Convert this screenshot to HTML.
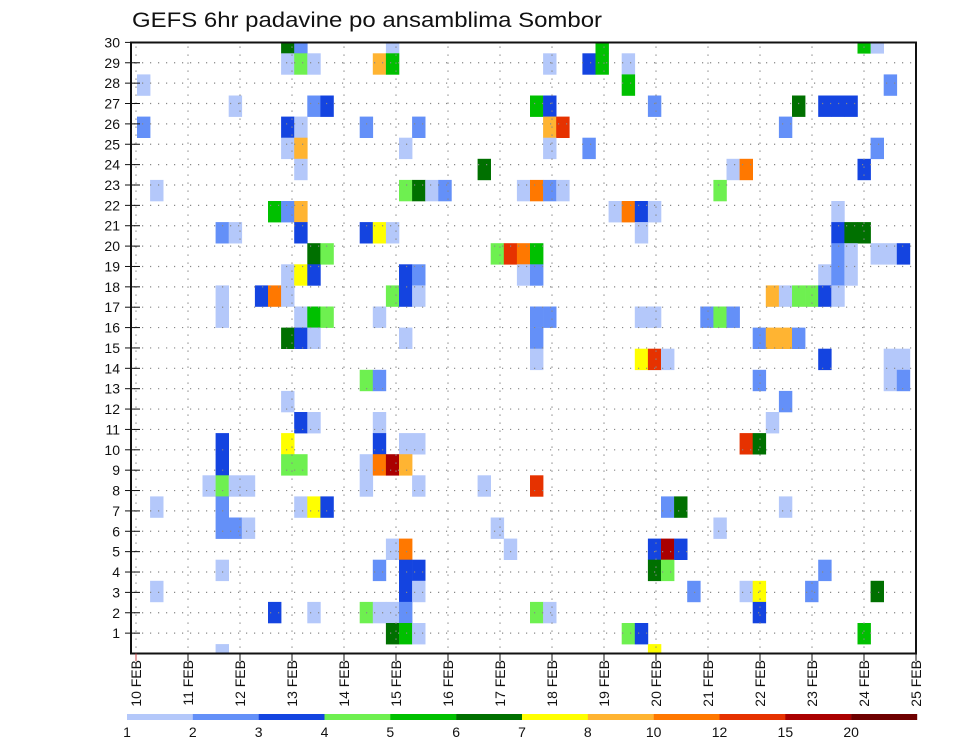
<!DOCTYPE html>
<html><head><meta charset="utf-8"><title>GEFS 6hr padavine po ansamblima Sombor</title>
<style>
html,body{margin:0;padding:0;background:#fff;}
svg{display:block;font-family:"Liberation Sans",sans-serif;}
</style></head>
<body>
<svg id="chart" width="960" height="742" viewBox="0 0 960 742" xmlns="http://www.w3.org/2000/svg">
<text x="132" y="27" font-size="21" fill="#111" textLength="470" lengthAdjust="spacingAndGlyphs">GEFS 6hr padavine po ansamblima Sombor</text>
<defs><clipPath id="plotclip"><rect x="131" y="42.5" width="785" height="611"/></clipPath></defs>
<g id="cells" clip-path="url(#plotclip)"></g>
<g id="grid"></g>
<g id="axes"></g>
<g id="legend"></g>
</svg>
<script>
// Data: each cell = 6-hour step index, ensemble member row, precipitation level
const stepIdx = [
11,12,19,35,55,56,
11,12,13,18,19,31,34,35,37,
0,37,57,
7,13,14,30,31,39,50,52,53,54,
0,11,12,17,21,31,32,49,
11,12,20,31,34,56,
12,26,45,46,55,
1,20,21,22,23,29,30,31,32,44,
10,11,12,36,37,38,39,53,
6,7,12,17,18,19,38,53,54,55,
13,14,27,28,29,30,53,54,56,57,58,
11,12,13,20,21,29,30,52,53,54,
6,9,10,11,19,20,21,48,49,50,51,52,53,
6,12,13,14,18,30,31,38,39,43,44,45,
11,12,13,20,30,47,48,49,50,
30,38,39,40,52,57,58,
17,18,47,57,58,
11,49,
12,13,18,48,
6,11,18,20,21,46,47,
6,11,12,17,18,19,20,
5,6,7,8,17,21,26,30,
1,6,12,13,14,40,41,49,
6,7,8,27,44,
19,20,28,39,40,41,
6,18,20,21,39,40,52,
1,20,21,42,46,47,51,56,
10,13,17,18,19,20,30,31,47,
19,20,21,37,38,55,
6,39];
const memberIdx = [
30,30,30,30,30,30,
29,29,29,29,29,29,29,29,29,
28,28,28,
27,27,27,27,27,27,27,27,27,27,
26,26,26,26,26,26,26,26,
25,25,25,25,25,25,
24,24,24,24,24,
23,23,23,23,23,23,23,23,23,23,
22,22,22,22,22,22,22,22,
21,21,21,21,21,21,21,21,21,21,
20,20,20,20,20,20,20,20,20,20,20,
19,19,19,19,19,19,19,19,19,19,
18,18,18,18,18,18,18,18,18,18,18,18,18,
17,17,17,17,17,17,17,17,17,17,17,17,
16,16,16,16,16,16,16,16,16,
15,15,15,15,15,15,15,
14,14,14,14,14,
13,13,
12,12,12,12,
11,11,11,11,11,11,11,
10,10,10,10,10,10,10,
9,9,9,9,9,9,9,9,
8,8,8,8,8,8,8,8,
7,7,7,7,7,
6,6,6,6,6,6,
5,5,5,5,5,5,5,
4,4,4,4,4,4,4,4,
3,3,3,3,3,3,3,3,3,
2,2,2,2,2,2,
1,1];
const precipVal = [
6,2,1,5,5,1,
1,4,1,8,5,1,3,5,1,
1,5,2,
1,2,3,5,3,2,6,3,3,3,
2,3,1,2,2,8,12,2,
1,8,1,1,2,2,
1,6,1,10,3,
1,4,6,1,2,1,10,2,1,4,
5,2,8,1,10,3,1,1,
2,1,3,3,7,1,1,3,6,6,
6,4,4,12,10,5,2,1,1,1,3,
1,7,3,3,2,1,2,1,2,1,
1,3,10,1,4,3,1,8,1,4,4,3,1,
1,1,5,4,1,2,2,1,1,2,4,2,
6,3,1,1,2,2,8,8,2,
1,7,12,1,3,1,1,
4,2,2,1,2,
1,2,
3,1,1,1,
3,7,3,1,1,12,6,
3,4,4,1,10,15,8,
1,4,1,1,1,1,1,12,
1,2,1,7,3,2,6,1,
2,2,1,1,1,
1,10,1,3,15,3,
1,2,3,3,6,4,2,
1,3,1,2,1,7,2,6,
3,1,4,1,1,2,4,1,3,
6,5,1,4,3,5,
1,7];
const levelBounds = [1,2,3,4,5,6,7,8,10,12,15,20];
const levelColors = ["#b4c8fa","#6490f8","#1444e0","#6ef050","#00c000","#007000","#ffff00","#ffb432","#ff7800","#e63200","#aa0000","#6e0000"];
const dayLabels = ["10 FEB","11 FEB","12 FEB","13 FEB","14 FEB","15 FEB","16 FEB","17 FEB","18 FEB","19 FEB","20 FEB","21 FEB","22 FEB","23 FEB","24 FEB","25 FEB"];
const memberTicks = [1,2,3,4,5,6,7,8,9,10,11,12,13,14,15,16,17,18,19,20,21,22,23,24,25,26,27,28,29,30];

const NS = "http://www.w3.org/2000/svg";
const L = 131, R = 916, T = 42.5, B = 653.5;
function xDay(i){ return 136 + i * 52.0; }
function yTick(v){ return B - v * 20.37; }
function xStep(s){ return 137 + s * 13.1; }
const cellW = 13.1, cellH = 21.1;
function yCellTop(m){ return 32.2 + (30 - m) * cellH; }
function colorFor(v){
  let idx = 0;
  for (let i = 0; i < levelBounds.length; i++) if (v >= levelBounds[i]) idx = i;
  return levelColors[idx];
}
function mk(tag, attrs, parent){
  const e = document.createElementNS(NS, tag);
  for (const k in attrs) e.setAttribute(k, attrs[k]);
  parent.appendChild(e);
  return e;
}

const cells = document.getElementById("cells");
for (let i = 0; i < precipVal.length; i++) {
  const r = mk("rect", {x: xStep(stepIdx[i]), y: yCellTop(memberIdx[i]), width: cellW + 0.3, height: cellH + 0.3, fill: colorFor(precipVal[i])}, cells);
  
  
}

const grid = document.getElementById("grid");
for (let k = 0; k < memberTicks.length; k++) {
  const y = yTick(memberTicks[k]);
  const g = mk("line", {x1: L + 3, x2: R, y1: y, y2: y, stroke: "#888", "stroke-width": 1.2, "stroke-dasharray": "1.2,6.8"}, grid);
  
  
}
for (let i = 0; i < dayLabels.length - 1; i++) {
  const x = xDay(i);
  const g = mk("line", {x1: x, x2: x, y1: T + 4, y2: B, stroke: "#888", "stroke-width": 1.2, "stroke-dasharray": "1.2,6.8"}, grid);
  
  
}

const axes = document.getElementById("axes");
const frame = mk("rect", {x: L, y: T, width: R - L, height: B - T, fill: "none", stroke: "#111", "stroke-width": 2}, axes);


for (let k = 0; k < memberTicks.length; k++) {
  const y = yTick(memberTicks[k]);
  const t = mk("line", {x1: 125, x2: 140, y1: y, y2: y, stroke: "#111", "stroke-width": 1}, axes);
  
  
  const lab = mk("text", {x: 120, y: y + 5, "text-anchor": "end", "font-size": 14, fill: "#111"}, axes);
  
  
  lab.textContent = memberTicks[k];
}
for (let i = 0; i < dayLabels.length; i++) {
  const x = xDay(i);
  const t = mk("line", {x1: x, x2: x, y1: B, y2: 661, stroke: i === 0 ? "#c44" : "#111", "stroke-width": 1}, axes);
  
  
  const lab = mk("text", {x: 0, y: 0, "text-anchor": "end", "font-size": 14, fill: "#111", transform: "translate(" + (x + 5) + ",660) rotate(-90)"}, axes);
  
  
  lab.textContent = dayLabels[i];
}

const legend = document.getElementById("legend");
const segW = (917 - 127) / levelColors.length;
for (let i = 0; i < levelColors.length; i++) {
  const r = mk("rect", {x: 127 + i * segW, y: 714, width: segW + 0.2, height: 6, fill: levelColors[i]}, legend);
  
  
  const t = mk("text", {x: 127 + i * segW, y: 737, "text-anchor": "middle", "font-size": 14, fill: "#111"}, legend);
  
  
  t.textContent = levelBounds[i];
}
</script>
</body></html>
